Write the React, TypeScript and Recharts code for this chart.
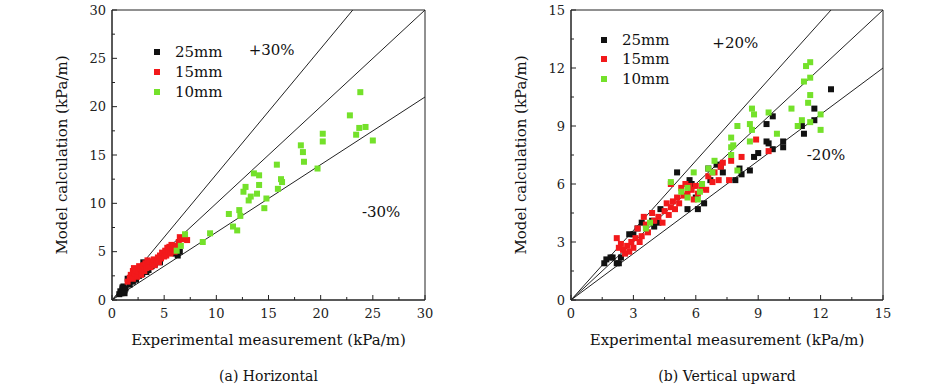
import React from "react";
import {
  ScatterChart,
  Scatter,
  XAxis,
  YAxis,
  ReferenceLine,
  ReferenceArea,
  ReferenceDot,
  Legend,
} from "recharts";

type Pt = { x: number; y: number };
const pts = (arr: number[][]): Pt[] => arr.map(([x, y]) => ({ x, y }));

// ---- (a) Horizontal ----
const H_25MM = pts([
  [0.7, 0.6], [0.8, 0.9], [0.9, 0.7], [1.0, 1.1], [1.1, 0.8], [1.0, 1.3], [1.2, 1.0], [1.1, 1.4],
  [1.3, 1.2], [1.2, 0.7], [1.5, 2.2], [1.7, 1.6], [2.0, 1.9], [2.3, 2.1], [2.6, 2.5], [2.9, 2.7],
  [3.0, 3.9], [3.2, 3.3], [3.3, 2.9], [3.5, 3.1], [3.8, 3.5], [4.1, 3.7], [4.6, 3.9], [6.1, 4.8],
  [6.3, 4.6], [6.5, 5.0],
]);
const H_15MM = pts([
  [1.5, 1.9], [1.7, 2.3], [1.8, 2.6], [2.0, 2.2], [2.0, 3.0], [2.1, 3.3], [2.2, 2.7], [2.3, 3.1],
  [2.4, 2.4], [2.5, 2.9], [2.6, 3.5], [2.7, 3.3], [2.8, 2.6], [2.9, 3.1], [3.0, 3.6], [3.1, 3.0],
  [3.2, 3.8], [3.3, 3.3], [3.4, 4.1], [3.5, 3.6], [3.6, 4.0], [3.7, 3.4], [3.9, 3.8], [4.0, 4.2],
  [4.1, 3.6], [4.3, 4.0], [4.4, 4.4], [4.5, 3.9], [4.6, 4.6], [4.7, 4.3], [4.8, 4.9], [5.0, 4.5],
  [5.1, 5.1], [5.2, 4.6], [5.3, 5.4], [5.4, 5.0], [5.5, 5.5], [5.6, 4.8], [5.7, 5.7], [5.8, 5.3],
  [5.9, 5.6], [6.0, 5.0], [6.1, 5.3], [6.2, 5.6], [6.4, 6.0], [6.5, 6.5], [6.6, 6.3], [6.8, 6.4],
  [7.0, 6.3], [7.2, 6.2],
]);
const H_10MM = pts([
  [7.0, 6.8], [6.6, 5.6], [6.2, 5.1], [9.4, 6.9], [8.7, 6.0], [11.2, 8.9], [11.6, 7.6], [12.0, 7.2],
  [12.2, 9.3], [12.3, 8.7], [12.6, 11.2], [12.8, 11.7], [13.1, 10.3], [13.3, 10.7], [13.6, 13.1],
  [14.1, 12.9], [14.1, 11.9], [13.9, 11.0], [14.8, 10.5], [14.6, 9.5], [15.8, 14.0], [15.9, 11.5],
  [16.2, 12.5], [16.3, 12.2], [18.1, 16.0], [18.3, 15.3], [18.4, 14.3], [19.7, 13.6], [20.2, 17.2],
  [20.2, 16.4], [22.8, 19.1], [23.8, 21.5], [23.7, 17.8], [23.4, 17.1], [24.3, 17.9], [25.0, 16.5],
]);
const H_TICKS = [0, 2.5, 5, 7.5, 10, 12.5, 15, 17.5, 20, 22.5, 25, 27.5, 30];

// ---- (b) Vertical upward ----
const V_25MM = pts([
  [12.5, 10.9], [11.7, 9.9], [11.7, 9.3], [11.1, 9.0], [11.2, 8.6], [9.7, 9.5], [9.4, 9.1],
  [9.4, 8.2], [9.5, 8.1], [9.7, 7.8], [10.2, 8.2], [10.2, 7.9], [9.0, 7.6], [8.8, 7.4], [8.6, 6.7],
  [8.1, 6.8], [8.2, 6.5], [7.9, 6.2], [7.2, 6.9], [7.3, 6.6], [7.0, 7.0], [6.6, 6.8], [6.7, 6.2],
  [5.1, 6.6], [5.7, 6.2], [5.8, 6.0], [6.0, 5.3], [6.4, 5.0], [6.1, 4.7], [5.6, 4.7], [4.3, 4.7],
  [4.2, 4.0], [4.0, 3.8], [3.9, 4.1], [3.4, 4.0], [3.2, 3.7], [3.0, 3.4], [2.8, 3.4], [2.4, 2.2],
  [2.3, 1.9], [2.2, 1.9], [2.0, 2.2], [1.9, 2.2], [1.6, 1.9], [1.7, 2.1],
]);
const V_15MM = pts([
  [2.2, 3.2], [2.4, 2.9], [2.5, 2.6], [2.6, 2.4], [2.7, 2.8], [2.8, 2.5], [2.9, 3.0], [3.0, 2.7],
  [3.1, 3.2], [3.3, 3.0], [3.4, 3.3], [3.5, 4.3], [3.6, 3.9], [3.7, 3.5], [3.9, 4.5], [4.0, 4.1],
  [4.2, 4.3], [4.4, 4.0], [4.5, 4.6], [4.6, 5.0], [4.7, 4.4], [4.8, 4.8], [4.9, 5.1], [5.0, 4.7],
  [5.1, 5.3], [5.2, 5.0], [5.3, 5.8], [5.4, 5.4], [5.5, 6.0], [5.6, 5.5], [5.8, 5.7], [5.9, 5.2],
  [6.0, 5.9], [6.1, 5.5], [6.3, 5.8], [6.5, 5.7], [6.6, 6.4], [6.8, 6.1], [6.9, 6.6], [7.1, 6.2],
  [7.2, 6.9], [7.3, 7.1], [7.6, 6.2], [7.7, 7.2], [8.2, 7.4], [8.9, 8.3], [9.5, 7.7], [4.8, 6.0],
  [3.2, 3.7], [2.3, 2.7], [5.7, 5.9],
]);
const V_10MM = pts([
  [11.3, 12.1], [11.5, 12.3], [11.5, 11.5], [11.2, 11.3], [11.5, 10.6], [11.4, 10.2], [10.6, 9.9],
  [11.1, 9.3], [11.5, 9.2], [10.9, 9.0], [12.0, 9.6], [12.0, 8.8], [8.7, 9.9], [8.8, 9.6],
  [8.6, 9.1], [8.7, 8.8], [8.0, 9.0], [9.5, 9.7], [9.9, 8.6], [8.6, 8.2], [7.7, 8.4], [7.8, 8.0],
  [7.7, 7.9], [7.7, 7.5], [8.0, 6.7], [6.9, 7.2], [6.6, 6.8], [6.8, 6.6], [5.9, 6.6], [4.8, 6.1],
  [5.3, 5.6], [5.6, 5.8], [5.6, 5.3], [6.3, 6.0], [6.2, 5.6], [6.1, 5.2], [3.8, 4.0], [3.6, 3.7],
]);
const V_TICKS = [0, 1.5, 3, 4.5, 6, 7.5, 9, 10.5, 12, 13.5, 15];

const SERIES_NAMES = ["25mm", "15mm", "10mm"];
const SERIES_COLORS = ["#111111", "#f2191b", "#74e12a"];

const FONT = '"DejaVu Serif", serif';
const INK = "#222";
const PLOT_TOP = 10;
const PLOT_BOTTOM = 300;
const CHART_H = 391;

const square = (color: string) => (p: any) => (
  <rect x={p.cx - 3} y={p.cy - 3} width={6} height={6} fill={color} />
);

type PanelProps = {
  left: number;
  width: number;
  yAxisWidth: number;
  rightMargin: number;
  max: number;
  ticks: number[];
  majorStep: number;
  band: number;
  series: Pt[][];
  notes: { x: number; y: number; text: string }[];
  legendPos: { left: number; top: number; row: number };
  caption: string;
};

function Panel(props: PanelProps) {
  const { left, width, yAxisWidth, rightMargin, max, ticks, majorStep, band, series, notes, legendPos, caption } = props;
  const isMajor = (v: number) => Math.abs(v / majorStep - Math.round(v / majorStep)) < 1e-6;

  const XTick = (p: any) => {
    const v = p.payload.value;
    const major = isMajor(v);
    return (
      <g>
        <line x1={p.x} x2={p.x} y1={PLOT_BOTTOM} y2={PLOT_BOTTOM - (major ? 5 : 3)} stroke={INK} />
        {major && (
          <text x={p.x} y={PLOT_BOTTOM + 13} textAnchor="middle" dominantBaseline="central" fontSize={13} fontFamily={FONT} fill={INK}>
            {v}
          </text>
        )}
      </g>
    );
  };

  const YTick = (p: any) => {
    const v = p.payload.value;
    const major = isMajor(v);
    return (
      <g>
        <line x1={yAxisWidth} x2={yAxisWidth + (major ? 5 : 3)} y1={p.y} y2={p.y} stroke={INK} />
        {major && (
          <text x={yAxisWidth - 6} y={p.y} textAnchor="end" dominantBaseline="central" fontSize={13} fontFamily={FONT} fill={INK}>
            {v}
          </text>
        )}
      </g>
    );
  };

  const renderLegend = () => (
    <div style={{ fontFamily: FONT, fontSize: 15, color: "#111" }}>
      {SERIES_NAMES.map((name, i) => (
        <div key={name} style={{ display: "flex", alignItems: "center", height: legendPos.row }}>
          <span style={{ width: 6, height: 6, background: SERIES_COLORS[i], display: "inline-block" }} />
          <span style={{ marginLeft: 15 }}>{name}</span>
        </div>
      ))}
    </div>
  );

  return (
    <div style={{ position: "absolute", left, top: 0, width, height: CHART_H }}>
      <ScatterChart
        width={width}
        height={CHART_H}
        margin={{ top: PLOT_TOP, right: rightMargin, bottom: 0, left: 0 }}
      >
        <XAxis
          type="number"
          dataKey="x"
          domain={[0, max]}
          ticks={ticks}
          interval={0}
          height={CHART_H - PLOT_BOTTOM}
          tickLine={false}
          axisLine={{ stroke: INK }}
          tick={(p: any) => <XTick {...p} />}
          label={{
            value: "Experimental measurement (kPa/m)",
            position: "center",
            dy: -6,
            style: { fontFamily: FONT, fontSize: 15, fill: "#111" },
          }}
        />
        <YAxis
          type="number"
          dataKey="y"
          domain={[0, max]}
          ticks={ticks}
          interval={0}
          width={yAxisWidth}
          tickLine={false}
          axisLine={{ stroke: INK }}
          tick={(p: any) => <YTick {...p} />}
          label={{
            value: "Model calculation (kPa/m)",
            angle: -90,
            position: "center",
            dx: 6,
            style: { fontFamily: FONT, fontSize: 15, fill: "#111", textAnchor: "middle" },
          }}
        />
        <ReferenceArea x1={0} x2={max} y1={0} y2={max} fill="none" stroke={INK} strokeWidth={1} />
        <ReferenceLine segment={[{ x: 0, y: 0 }, { x: max / (1 + band), y: max }]} stroke={INK} strokeWidth={1} />
        <ReferenceLine segment={[{ x: 0, y: 0 }, { x: max, y: max }]} stroke={INK} strokeWidth={1} />
        <ReferenceLine segment={[{ x: 0, y: 0 }, { x: max, y: max * (1 - band) }]} stroke={INK} strokeWidth={1} />
        {series.map((data, i) => (
          <Scatter
            key={SERIES_NAMES[i]}
            name={SERIES_NAMES[i]}
            data={data}
            fill={SERIES_COLORS[i]}
            shape={square(SERIES_COLORS[i])}
            legendType="square"
            isAnimationActive={false}
          />
        ))}
        {notes.map((n) => (
          <ReferenceDot
            key={n.text}
            x={n.x}
            y={n.y}
            r={0}
            fill="none"
            stroke="none"
            label={{ value: n.text, position: "center", style: { fontFamily: FONT, fontSize: 15, fill: "#111" } }}
          />
        ))}
        <Legend
          layout="vertical"
          align="center"
          verticalAlign="middle"
          content={renderLegend}
          wrapperStyle={{ left: legendPos.left, top: legendPos.top, width: "auto" }}
        />
      </ScatterChart>
      <div
        style={{
          position: "absolute",
          left: yAxisWidth,
          width: width - yAxisWidth - rightMargin,
          top: 368,
          textAlign: "center",
          fontFamily: FONT,
          fontSize: 14,
          color: "#111",
        }}
      >
        {caption}
      </div>
    </div>
  );
}

export default function App() {
  return (
    <div style={{ position: "absolute", left: 0, top: 0, width: 945, height: 391, background: "#fff" }}>
      <Panel
        left={0}
        width={472}
        yAxisWidth={112}
        rightMargin={47}
        max={30}
        ticks={H_TICKS}
        majorStep={5}
        band={0.3}
        series={[H_25MM, H_15MM, H_10MM]}
        notes={[
          { x: 15.3, y: 25.85, text: "+30%" },
          { x: 25.8, y: 9.1, text: "-30%" },
        ]}
        legendPos={{ left: 154, top: 42, row: 20 }}
        caption="(a) Horizontal"
      />
      <Panel
        left={458}
        width={487}
        yAxisWidth={113}
        rightMargin={62}
        max={15}
        ticks={V_TICKS}
        majorStep={3}
        band={0.2}
        series={[V_25MM, V_15MM, V_10MM]}
        notes={[
          { x: 7.9, y: 13.3, text: "+20%" },
          { x: 12.26, y: 7.5, text: "-20%" },
        ]}
        legendPos={{ left: 143, top: 30, row: 19.5 }}
        caption="(b) Vertical upward"
      />
    </div>
  );
}
